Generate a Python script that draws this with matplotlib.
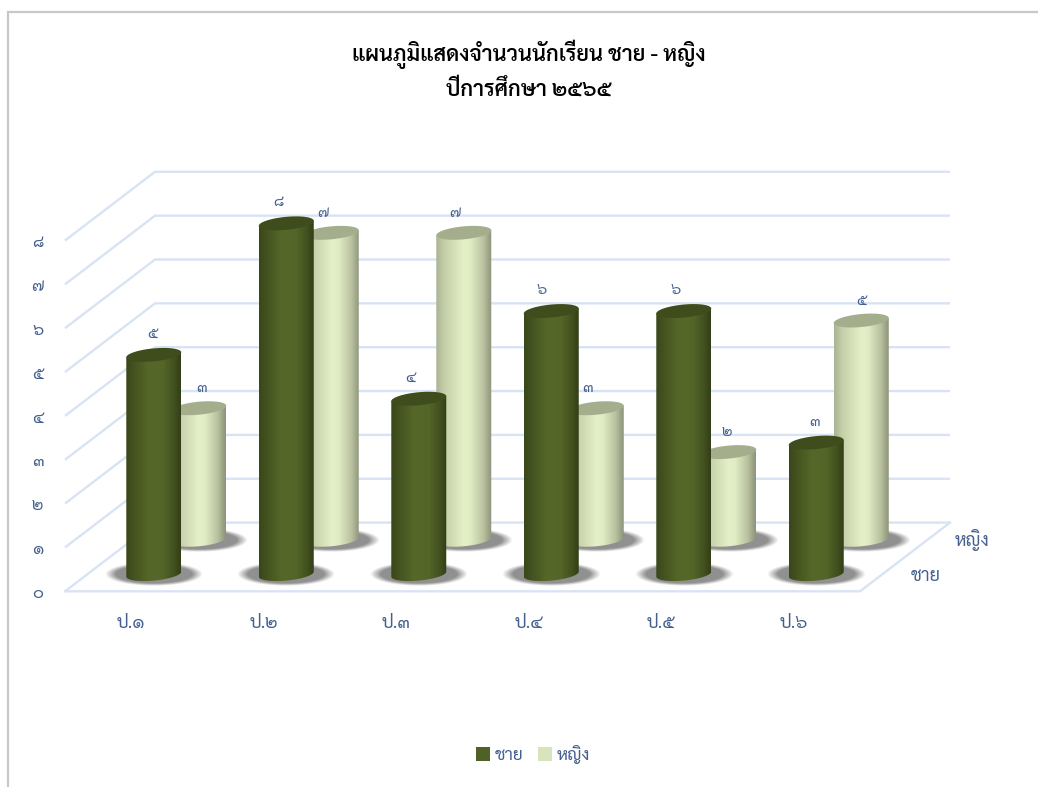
import numpy as np
import matplotlib
matplotlib.use('Agg')
import matplotlib.pyplot as plt
from matplotlib.colors import LinearSegmentedColormap
from matplotlib.patches import Polygon, Patch
from matplotlib.lines import Line2D

plt.rcParams['font.family'] = ['Sarabun', 'DejaVu Sans']

TITLE = 'แผนภูมิแสดงจำนวนนักเรียน ชาย - หญิง\nปีการศึกษา ๒๕๖๕'
categories = ['ป.๑', 'ป.๒', 'ป.๓', 'ป.๔', 'ป.๕', 'ป.๖']
series_names = ['ชาย', 'หญิง']
male = [5, 8, 4, 6, 6, 3]
female = [3, 7, 7, 3, 2, 5]
thai_digits = ['๐', '๑', '๒', '๓', '๔', '๕', '๖', '๗', '๘']
y_ticks = list(range(9))

# label nudges (pixels) seen in the reference
male_dx = [-1.5, -8, -8, -9, -8, -2]
female_dx = [3, -8, -9, -9, -2, 0.5]

W, H = 1038, 787
PX_X, PX_Y = 132.5, 43.85     # pixels per category / per value
DEPTH_PX_X, DEPTH_PX_Y = 90, 68.7
DEPTH_X, DEPTH_Y = DEPTH_PX_X / PX_X, DEPTH_PX_Y / PX_Y
TEXT = '#44608f'
GRID = '#d8e3f3'
RAD = 27.5 / PX_X
ELL_B, ELL_T = 6.5 / PX_Y, 2.5 / PX_Y
AX_W, AX_H = 885, 421

fig = plt.figure(figsize=(W / 100, H / 100), dpi=100)
fig.patch.set_facecolor('white')
ax = fig.add_axes([65 / W, (H - 591.3) / H, AX_W / W, AX_H / H])
ax.set_facecolor('none')
xmax, ymax = AX_W / PX_X, AX_H / PX_Y


def dpt(x, v, d):
    return x + d * DEPTH_X, v + d * DEPTH_Y


# walls and floor
for v in y_ticks:
    x0, y0 = dpt(0, v, 0)
    x1, y1 = dpt(0, v, 1)
    x2, y2 = dpt(len(categories), v, 1)
    ax.plot([x0, x1, x2], [y0, y1, y2], color=GRID, lw=1.7, clip_on=False, zorder=1,
            solid_joinstyle='miter', solid_capstyle='butt')
fx = [dpt(0, 0, 0), dpt(len(categories), 0, 0), dpt(len(categories), 0, 1)]
ax.plot(*zip(*fx), color=GRID, lw=1.7, clip_on=False, zorder=1, solid_joinstyle='miter')

cmap_m = LinearSegmentedColormap.from_list('m', [(0, '#3a4719'), (.12, '#42511f'), (.42, '#566829'),
                                                 (.68, '#546528'), (.9, '#3f4e1d'), (1, '#323e16')])
cmap_f = LinearSegmentedColormap.from_list('f', [(0, '#aab393'), (.15, '#c5cfa9'), (.5, '#e4f0c8'),
                                                 (.62, '#e0ecc4'), (.85, '#b9c19f'), (1, '#8b937a')])
grad = np.linspace(0, 1, 256).reshape(1, -1)
t = np.linspace(0, 2 * np.pi, 121)


def shadow(cx, base, z):
    a, b = 49 / PX_X, 12 / PX_Y
    gx, gy = np.meshgrid(np.linspace(-1, 1, 180), np.linspace(-1, 1, 60))
    r = np.sqrt(gx ** 2 + gy ** 2)
    alpha = np.clip((1 - r) / 0.22, 0, 1) * 0.68
    img = np.zeros(r.shape + (4,))
    img[..., :3] = 0.36
    img[..., 3] = alpha
    ax.imshow(img, extent=(cx - a, cx + a, base - b, base + b),
              aspect='auto', zorder=z, interpolation='bilinear', origin='lower')


def cylinder(cx, base, val, cmap, top_col, z):
    top = base + val
    cs, sn = np.cos(t), np.sin(t)
    ex, ey = RAD * cs, ELL_B * sn + ELL_T * cs
    low = sn <= 0
    order = np.argsort(cs[low])
    bx, by = cx + ex[low][order], base + ey[low][order]
    tx, ty = cx + ex[low][order][::-1], top + ELL_T * cs[low][order][::-1]
    poly = Polygon(np.column_stack([np.r_[bx, tx], np.r_[by, ty]]), closed=True, transform=ax.transData,
                   fc='none', ec='none')
    ax.add_patch(poly)
    im = ax.imshow(grad, cmap=cmap, extent=(cx - RAD, cx + RAD, base - 10 / PX_Y, top + 10 / PX_Y),
                   aspect='auto', zorder=z, interpolation='bilinear')
    im.set_clip_path(poly)
    ax.fill(cx + ex, top + ey, color=top_col, zorder=z + 0.1, lw=0)


centers = np.arange(len(categories)) + 0.5
for i, c in enumerate(centers):
    mx, mb = dpt(c, 0, 0.25)
    fxx, fb = dpt(c, 0, 0.75)
    shadow(fxx, fb, 2)
    shadow(mx, mb, 3)
for i, c in enumerate(centers):
    fxx, fb = dpt(c, 0, 0.75)
    cylinder(fxx, fb, female[i], cmap_f, '#a5ae8c', 4)
    ax.annotate(thai_digits[female[i]], (fxx, fb + female[i]), xytext=(female_dx[i] * .72, 14.5),
                textcoords='offset points', ha='center', va='center', fontsize=11, color=TEXT, zorder=8)
for i, c in enumerate(centers):
    mx, mb = dpt(c, 0, 0.25)
    cylinder(mx, mb, male[i], cmap_m, '#3f4d1d', 5)
    ax.annotate(thai_digits[male[i]], (mx, mb + male[i]), xytext=(male_dx[i] * .72, 15),
                textcoords='offset points', ha='center', va='center', fontsize=11, color=TEXT, zorder=8)

ax.set_xlim(0, xmax)
ax.set_ylim(0, ymax)
for s in ax.spines.values():
    s.set_visible(False)
ax.set_xticks(centers, categories)
ax.set_yticks(y_ticks, [thai_digits[v] for v in y_ticks])
ax.tick_params(axis='x', length=0, pad=17, labelsize=13, labelcolor=TEXT)
ax.tick_params(axis='y', length=0, pad=15.5, labelsize=12, labelcolor=TEXT)

# depth axis labels
for name, d, off in zip(series_names, [0.25, 0.75], [(31, -2), (32, -0.5)]):
    ax.annotate(name, dpt(len(categories), 0, d), xytext=off, textcoords='offset points',
                ha='center', va='center', fontsize=13, color=TEXT, annotation_clip=False)

fig.text(529 / W, 1 - 70.5 / H, TITLE, ha='center', va='center', fontsize=15.6, fontweight='semibold',
         color='black', linespacing=1.6)

handles = [Patch(fc='#4f6028', ec='none'), Patch(fc='#d8e4bc', ec='none')]
fig.legend(handles, series_names, ncol=2, loc='center', bbox_to_anchor=(533 / W, 1 - 754.5 / H),
           frameon=False, fontsize=12.5, labelcolor=TEXT, handlelength=0.81, handleheight=0.81,
           handletextpad=0.28, columnspacing=0.85)

# chart frame
fig.add_artist(Line2D([8 / W, 8 / W, 1], [0, 1 - 12 / H, 1 - 12 / H], color='#c8c8c8', lw=1.6,
                      transform=fig.transFigure, solid_joinstyle='miter'))
fig.savefig('out.png', dpi=100)
